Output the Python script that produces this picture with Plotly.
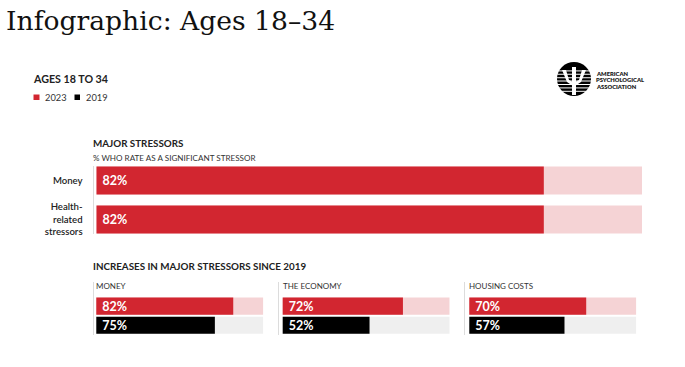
import math
import plotly.graph_objects as go

W, H = 685, 367
RED, PALE, BLACK, GREY = "#d22630", "#f5d3d5", "#000000", "#efefef"
SANS = "Lato"

stressors = ["Money", "Health-<br>related<br>stressors"]
stressor_values = [82, 82]
stressor_labels = ["82%", "82%"]
panel_titles = ["MONEY", "THE ECONOMY", "HOUSING COSTS"]
years = ["2023", "2019"]
values_2023 = [82, 72, 70]
values_2019 = [71, 52, 57]  # drawn bar lengths
labels_2023 = ["82%", "72%", "70%"]
labels_2019 = ["75%", "52%", "57%"]  # printed labels


def px(x):
    return x / W


def py(y):
    return 1 - y / H


fig = go.Figure()


def add_bars(axis_suffix, cats, vals, texts, colors, tracks, width, size):
    xa, ya = "x" + axis_suffix, "y" + axis_suffix
    fig.add_bar(y=cats, x=[100] * len(cats), orientation="h", marker=dict(color=tracks, line_width=0),
                width=width, xaxis=xa, yaxis=ya, showlegend=False, hoverinfo="skip")
    fig.add_bar(y=cats, x=vals, orientation="h", marker=dict(color=colors, line_width=0),
                width=width, xaxis=xa, yaxis=ya, showlegend=False,
                text=["\u00a0" + t for t in texts], textposition="inside", insidetextanchor="start",
                textangle=0, constraintext="none",
                textfont=dict(family=SANS, size=size, color="white", weight=700))


add_bars("", stressors, stressor_values, stressor_labels, [RED, RED], [PALE, PALE], 0.72, 12.5)
for i in range(3):
    add_bars(str(i + 2), years, [values_2023[i], values_2019[i]], [labels_2023[i], labels_2019[i]],
             [RED, BLACK], [PALE, GREY], 0.9, 12.5)

layout = dict(
    template="none",
    width=W, height=H, autosize=False, margin=dict(l=0, r=0, t=0, b=0, pad=0),
    paper_bgcolor="white", plot_bgcolor="white", barmode="overlay", showlegend=False,
    font=dict(family=SANS, color="#222222"),
)

AX = "#dcdcdc"
layout["xaxis"] = dict(domain=[px(93.5), px(642)], range=[-0.55, 100], visible=False, fixedrange=True, automargin=False)
layout["yaxis"] = dict(domain=[py(234), py(166)], type="category", categoryorder="array", automargin=False,
                       categoryarray=stressors, range=[1.37, -0.37], showline=True, linecolor=AX, linewidth=1,
                       showgrid=False, zeroline=False, ticks="outside", ticklen=8, tickcolor="rgba(0,0,0,0)",
                       tickfont=dict(family=SANS, size=9.6, color="#222222", weight=600), fixedrange=True)
panel_axis_x = [93.5, 278.5, 464.5]
panel_bar_x = [96.3, 282.7, 469.3]
PANEL_W = 167
for i, (x0, b0) in enumerate(zip(panel_axis_x, panel_bar_x)):
    s = str(i + 2)
    lead = (b0 - x0) / (PANEL_W / 100)
    layout["xaxis" + s] = dict(domain=[px(x0), px(b0 + PANEL_W)], range=[-lead, 100], visible=False,
                               fixedrange=True, automargin=False)
    layout["yaxis" + s] = dict(domain=[py(334.5), py(282)], anchor="x" + s, type="category", categoryorder="array",
                               categoryarray=years, range=[1.484, -1.26], showline=True, linecolor=AX, linewidth=1,
                               showgrid=False, zeroline=False, showticklabels=False, ticks="", fixedrange=True,
                               automargin=False)


def label(x, y, text, size, color="#222222", weight=400, family=SANS):
    fig.add_annotation(x=px(x), y=py(y), xref="paper", yref="paper", text=text, showarrow=False,
                       xanchor="left", yanchor="middle", align="left",
                       font=dict(family=family, size=size, color=color, weight=weight), borderpad=0, borderwidth=0)


label(5.5, 20, "Infographic: Ages 18\u201334", 26.6, color="#111111", family="DejaVu Serif")
label(32.5, 79, "AGES 18 TO 34", 10.7, weight=700)
label(45, 97, "2023", 9.3, color="#333333")
label(85.5, 97, "2019", 9.3, color="#333333")
label(93, 143.5, "MAJOR STRESSORS", 9.8, weight=700)
label(93, 157.5, "% WHO RATE AS A SIGNIFICANT STRESSOR", 8.1, color="#333333")
label(93, 265.5, "INCREASES IN MAJOR STRESSORS SINCE 2019", 9.8, weight=700)
for x, t in zip([96.3, 282.7, 469.3], panel_titles):
    label(x, 286, t, 8, color="#333333")
for j, t in enumerate(["AMERICAN", "PSYCHOLOGICAL", "ASSOCIATION"]):
    label(596, 73.3 + j * 6.4, t, 5.8, color="#222222", weight=800)

shapes = []


def rect(x0, y0, x1, y1, color):
    shapes.append(dict(type="rect", xref="paper", yref="paper", x0=px(x0), x1=px(x1), y0=py(y0), y1=py(y1),
                       fillcolor=color, line_width=0, layer="above"))


rect(33.5, 94.5, 39.5, 100, RED)
rect(74.5, 94.5, 80, 100, BLACK)

# logo
cx, cy, r = 574, 79, 17
shapes.append(dict(type="circle", xref="paper", yref="paper", x0=px(cx - r), x1=px(cx + r), y0=py(cy - r), y1=py(cy + r),
                   fillcolor="black", line_width=0, layer="above"))
for dy in (-8.6, -5.2, -1.8, 1.6, 5.0, 8.4, 11.8):
    half = math.sqrt(r * r - dy * dy) + 0.5
    rect(cx - half, cy + dy, cx + half, cy + dy + 1.0, "white")


def poly(points):
    d = "M" + " L".join(f"{px(a):.5f},{py(b):.5f}" for a, b in points) + " Z"
    shapes.append(dict(type="path", xref="paper", yref="paper", path=d, fillcolor="white", line_width=0, layer="above"))


poly([(cx - 2, cy - 12), (cx + 2, cy - 12), (cx + 2, cy + 16), (cx - 2, cy + 16)])
poly([(cx - 12, cy - 9), (cx - 8, cy - 9), (cx - 5, cy + 1), (cx - 1, cy + 3), (cx - 1, cy + 7), (cx - 7, cy + 3)])
poly([(cx + 12, cy - 9), (cx + 8, cy - 9), (cx + 5, cy + 1), (cx + 1, cy + 3), (cx + 1, cy + 7), (cx + 7, cy + 3)])

layout["shapes"] = shapes
fig.update_layout(**layout)
fig.write_html("out.html", config={"displayModeBar": False},
               post_script="document.body.style.margin='0';")
